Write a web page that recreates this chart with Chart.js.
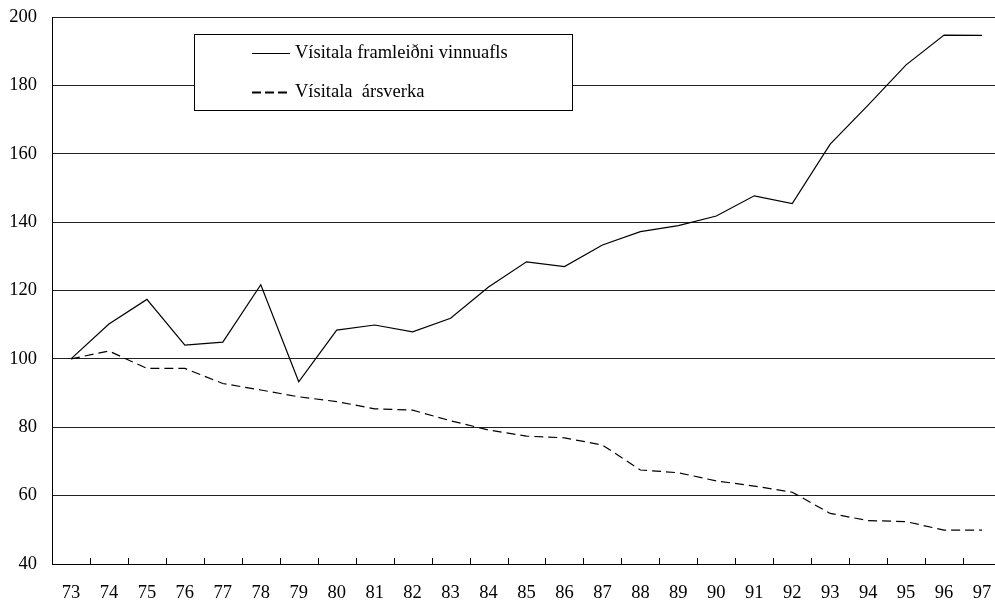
<!DOCTYPE html>
<html><head><meta charset="utf-8">
<script src="https://cdn.jsdelivr.net/npm/chart.js@4/dist/chart.umd.min.js"></script>
<style>
html,body{margin:0;padding:0;background:#fff;overflow:hidden;}
#wrap{width:1002px;height:601px;position:relative;}
</style></head>
<body>
<div id="wrap"><canvas id="c" width="1002" height="601"></canvas></div>
<script>
const categories = ['73','74','75','76','77','78','79','80','81','82','83','84','85','86','87','88','89','90','91','92','93','94','95','96','97'];
const seriesNames = ['Vísitala framleiðni vinnuafls', 'Vísitala  ársverka'];
const productivity = [100,110.2,117.4,104,104.9,121.7,93.3,108.4,109.9,107.9,111.9,121,128.4,127,133.3,137.2,139,141.8,147.7,145.4,162.8,174.2,186,194.7,194.6];
const manYears = [100,102.3,97.2,97.2,92.8,90.9,88.9,87.5,85.4,85.0,81.9,79.2,77.4,76.9,74.8,67.5,66.7,64.3,62.8,61.0,54.8,52.7,52.4,49.9,49.9];
const yTicks = [40,60,80,100,120,140,160,180,200];

const FONT = "'Liberation Serif','Times New Roman',serif";
const FS = 18.5;

const innerTicks = {
  id:'innerTicks',
  afterDatasetsDraw(chart){
    const x = chart.scales.x, ctx = chart.ctx, b = chart.chartArea.bottom;
    ctx.save();
    ctx.strokeStyle = '#000'; ctx.lineWidth = 1;
    for (let i=1;i<categories.length;i++){
      const px = Math.round((x.getPixelForValue(i-1)+x.getPixelForValue(i))/2)+0.5;
      ctx.beginPath(); ctx.moveTo(px,b); ctx.lineTo(px,b-6); ctx.stroke();
    }
    ctx.restore();
  }
};

const boxLegend = {
  id:'boxLegend',
  afterDraw(chart){
    const ctx = chart.ctx;
    ctx.save();
    ctx.fillStyle = '#fff';
    ctx.fillRect(194.5,34.5,378,76);
    ctx.strokeStyle = '#000'; ctx.lineWidth = 1;
    ctx.strokeRect(194.5,34.5,378,76);
    const rows = [{y:53.5,dash:[]},{y:92.5,dash:[9,4]}];
    ctx.font = FS + "px " + FONT;
    ctx.textBaseline = 'middle'; ctx.textAlign = 'left';
    rows.forEach((r,i)=>{
      ctx.setLineDash(r.dash);
      ctx.lineWidth = i===1 ? 2 : 1;
      ctx.beginPath(); ctx.moveTo(252,r.y); ctx.lineTo(290,r.y); ctx.stroke();
      ctx.setLineDash([]);
      ctx.fillStyle = '#000';
      ctx.fillText(seriesNames[i], 295, r.y);
    });
    ctx.restore();
  }
};

new Chart(document.getElementById('c'), {
  type:'line',
  data:{
    labels: categories,
    datasets:[
      {label: seriesNames[0], data: productivity, borderColor:'#000', borderWidth:1.2, pointRadius:0, tension:0, fill:false},
      {label: seriesNames[1], data: manYears, borderColor:'#000', borderWidth:1.2, borderDash:[9,5], pointRadius:0, tension:0, fill:false}
    ]
  },
  options:{
    responsive:false, animation:false, devicePixelRatio:1,
    layout:{padding:{top:17,right:1,left:0,bottom:0}},
    plugins:{legend:{display:false}, tooltip:{enabled:false}},
    scales:{
      x:{
        offset:true,
        grid:{display:false, drawTicks:false},
        border:{display:true, color:'#000', width:1},
        ticks:{font:{family:FONT,size:FS}, color:'#000', padding:18, maxRotation:0, autoSkip:false},
        afterFit(s){ s.height = 37; s.paddingLeft = 0; s.paddingRight = 0; }
      },
      y:{
        min:40, max:200,
        afterBuildTicks(s){ s.ticks = yTicks.map(v=>({value:v})); },
        grid:{color:'#222', lineWidth:1, drawTicks:false},
        border:{display:true, color:'#000', width:1},
        ticks:{font:{family:FONT,size:FS}, color:'#000', padding:15},
        afterFit(s){ s.width = 52; s.paddingTop = 0; s.paddingBottom = 0; }
      }
    }
  },
  plugins:[innerTicks, boxLegend]
});
</script>
</body></html>
